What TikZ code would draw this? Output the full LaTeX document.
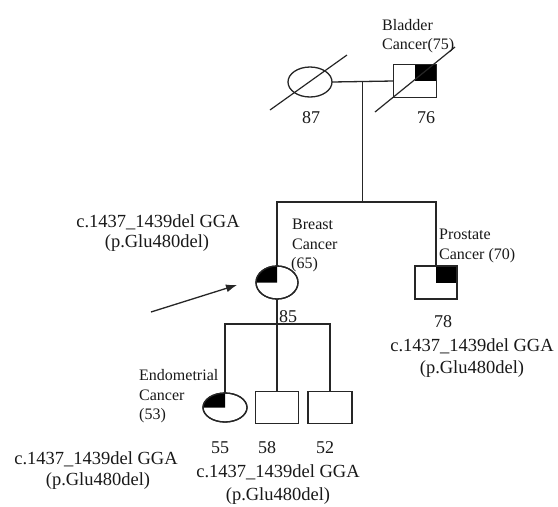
\documentclass[tikz,border=0pt]{standalone}
\usepackage{fontspec}
\setmainfont{Liberation Serif}
\usetikzlibrary{shapes.geometric,arrows.meta}
\begin{document}
\begin{tikzpicture}[x=1pt,y=-1pt,
  ln/.style={line width=1.3pt, draw=black!85},
  fem/.style={ellipse, draw=black!85, line width=1.3pt, minimum width=44pt, minimum height=30pt, inner sep=0pt, outer sep=0pt},
  male/.style={rectangle, draw=black!85, line width=1.3pt, minimum width=43pt, minimum height=33pt, inner sep=0pt, outer sep=0pt},
  big/.style={font=\fontsize{18.5}{21}\selectfont, inner sep=0pt, anchor=base, text=black!90},
  num/.style={font=\fontsize{18}{21}\selectfont, inner sep=0pt, anchor=base, text=black!90},
  lab/.style={font=\fontsize{16}{19}\selectfont, inner sep=0pt, anchor=base west, text=black!90},
  slash/.style={line width=1.2pt, draw=black!85}
]
\useasboundingbox (0,0) rectangle (558,507);
\fill[white] (0,0) rectangle (558,507);

% generation I
\node[fem] (gm) at (310,82) {};
\node[male] (gf) at (415,81) {};
\fill[black] (gf.center) rectangle (gf.north east);
\node[male] (gf2) at (415,81) {};
\draw[ln] (gm.east) -- (gf.west);
\coordinate (mid) at (362.5,81);
\coordinate (sib) at (362.5,202);
\draw[ln] (mid) -- (sib);
\coordinate (gmA) at (270,110);
\coordinate (gmB) at (347,55);
\draw[slash] (gmA) -- (gmB);
\coordinate (gfA) at (375,112);
\coordinate (gfB) at (455,47);
\draw[slash] (gfA) -- (gfB);

\node[lab] (bl1) at (382,30) {Bladder};
\node[lab] (bl2) at (382,49.5) {Cancer(75)};
\node[num] (n87) at (311,123) {87};
\node[num] (n76) at (426,123) {76};

% generation II
\node[fem, minimum width=42pt, minimum height=33pt] (mo) at (277,282.5) {};
\fill[black] (mo.center) -- (mo.west) arc[start angle=180, end angle=90, x radius=21pt, y radius=16.5pt] -- cycle;
\node[fem, minimum width=42pt, minimum height=33pt] (mo2) at (277,282.5) {};
\node[male, minimum width=42pt] (un) at (436,282.5) {};
\fill[black] (un.center) rectangle (un.north east);
\node[male, minimum width=42pt] (un2) at (436,282.5) {};
\draw[ln] (mo.north) |- (sib) -| (un.north);

\node[big] (mA1) at (158,227) {c.1437\_1439del GGA};
\node[big] (mA2) at (157,247) {(p.Glu480del)};
\node[lab] (br1) at (292,229) {Breast};
\node[lab] (br2) at (292,249) {Cancer};
\node[lab] (br3) at (291,268.5) {(65)};
\node[num] (n85) at (288,322) {85};

\coordinate (arT) at (151,312);
\coordinate (arH) at (237,285);
\draw[line width=1.3pt, draw=black!85, -{Latex[length=11pt,width=8pt]}] (arT) -- (arH);

\node[lab] (pr1) at (439,239) {Prostate};
\node[lab] (pr2) at (439,259) {Cancer (70)};
\node[num] (n78) at (443,327) {78};
\node[big] (mB1) at (472,351) {c.1437\_1439del GGA};
\node[big] (mB2) at (472,373) {(p.Glu480del)};

% generation III
\coordinate (sub) at (277,324);
\draw[ln] (mo.south) -- (sub);
\node[fem, minimum height=29pt] (da) at (225,407.5) {};
\fill[black] (da.center) -- (da.west) arc[start angle=180, end angle=90, x radius=22pt, y radius=14.5pt] -- cycle;
\node[fem, minimum height=29pt] (da2) at (225,407.5) {};
\node[male, minimum height=32pt] (s1) at (277,407.5) {};
\node[male, minimum height=32pt, minimum width=44pt] (s2) at (330,407.5) {};
\draw[ln] (da.north) |- (sub) -| (s2.north);
\draw[ln] (sub) -- (s1.north);

\node[lab] (en1) at (139,380) {Endometrial};
\node[lab] (en2) at (139,400) {Cancer};
\node[lab] (en3) at (139,419) {(53)};
\node[num] (n55) at (220,453) {55};
\node[num] (n58) at (267,453) {58};
\node[num] (n52) at (325,453) {52};

\node[big] (mC1) at (96,464) {c.1437\_1439del GGA};
\node[big] (mC2) at (98,485) {(p.Glu480del)};
\node[big] (mD1) at (278,477) {c.1437\_1439del GGA};
\node[big] (mD2) at (278,500) {(p.Glu480del)};
\end{tikzpicture}
\end{document}
